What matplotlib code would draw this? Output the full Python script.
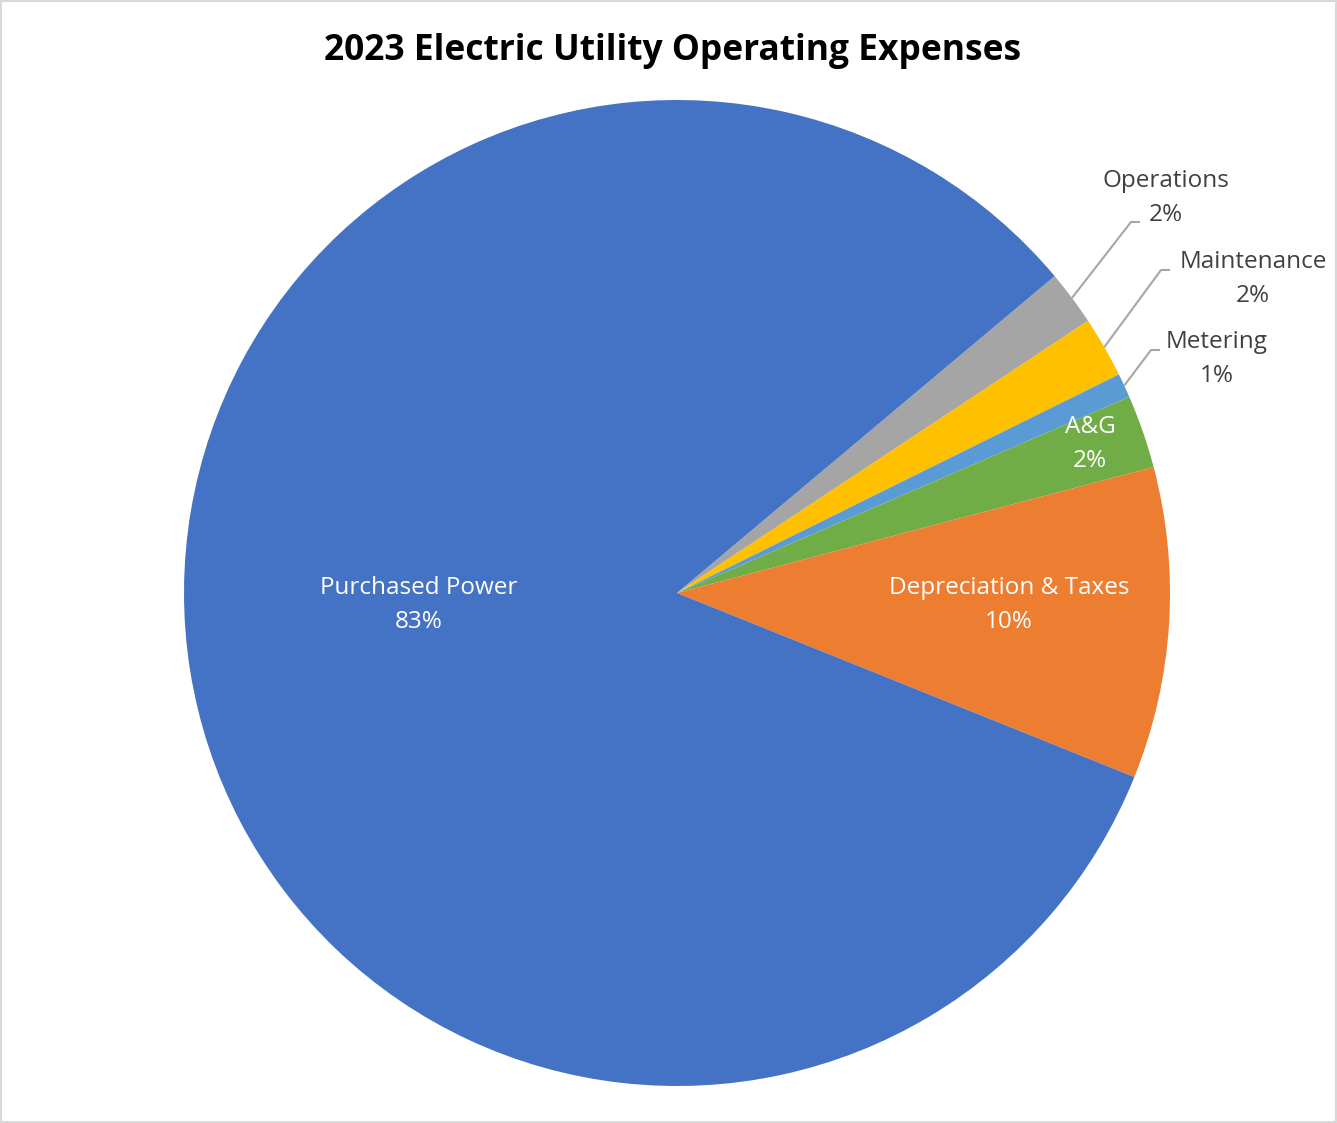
import numpy as np
import matplotlib
matplotlib.use("Agg")
import matplotlib.pyplot as plt
from matplotlib.patches import Rectangle

# ---- data ----
categories = ["Operations", "Maintenance", "Metering", "A&G",
              "Depreciation & Taxes", "Purchased Power"]
shares = [1.8, 2.0, 0.8, 2.4, 10.2, 82.8]
colors = ["#A5A5A5", "#FFC000", "#5B9BD5", "#70AD47", "#ED7D31", "#4472C4"]

W, H = 1337, 1123
cx, cy, R = 677, 593, 493   # pie centre and radius in pixels

# label layout in pixels: label centre, and leader end offset (None = inside label)
label_pos = {
    "Operations": (1166, 198, (-26, 24)),
    "Maintenance": (1253, 279, (-83, -9)),
    "Metering": (1217, 359, (-57, -9)),
    "A&G": (1090, 444, None),
    "Depreciation & Taxes": (1009, 605, None),
    "Purchased Power": (419, 605, None),
}


def px(x, y):
    return (x - cx) / R, (cy - y) / R


fig = plt.figure(figsize=(W / 100, H / 100), dpi=100)
ax = fig.add_axes([0, 0, 1, 1])

wedges, _ = ax.pie(shares, colors=colors, startangle=40, counterclock=False,
                   wedgeprops=dict(linewidth=0))
ax.set_xlim(-cx / R, (W - cx) / R)
ax.set_ylim(-(H - cy) / R, cy / R)
ax.set_aspect("equal")
ax.axis("off")

pct = np.array(shares) / sum(shares) * 100
for w, name, p in zip(wedges, categories, pct):
    lx, ly, leader = label_pos[name]
    x, y = px(lx, ly)
    txt = f"{name}\n{p:.0f}%"
    inside = leader is None
    ax.text(x, y, txt, ha="center", va="center",
            color="white" if inside else "#404040",
            fontsize=17.5, family="Open Sans", linespacing=1.55)
    if not inside:
        amid = np.deg2rad((w.theta1 + w.theta2) / 2)
        x0, y0 = np.cos(amid), np.sin(amid)
        xe, ye = px(lx + leader[0], ly + leader[1])
        xk = xe - 9 / R
        ax.plot([x0, xk, xe], [y0, ye, ye], color="#A6A6A6", lw=1.5,
                solid_capstyle="butt")

fig.text(673 / W, 1 - 51 / H, "2023 Electric Utility Operating Expenses",
         ha="center", va="center", fontsize=25.5, fontweight="bold",
         family="Open Sans", color="black")

fig.patches.append(Rectangle((0.001, 0.001), 0.998, 0.998, transform=fig.transFigure,
                             fill=False, edgecolor="#D9D9D9", linewidth=1.5))

fig.savefig("out.png", dpi=100)
